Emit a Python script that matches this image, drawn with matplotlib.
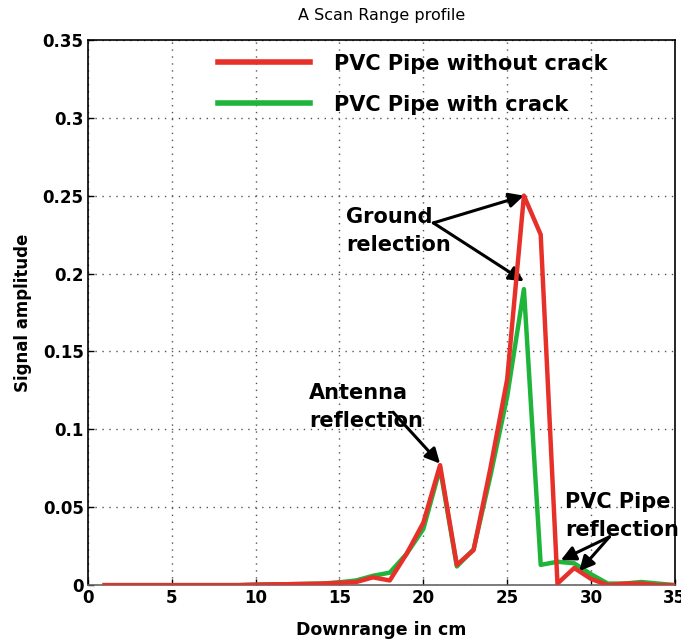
import numpy as np
import matplotlib
matplotlib.use("Agg")
import matplotlib.pyplot as plt
from matplotlib.ticker import FormatStrFormatter

plt.rcParams['font.family'] = ['DejaVu Sans']

# Downrange positions (cm) and A-scan amplitudes
downrange = list(range(1, 36))
no_crack = [0, 0, 0, 0, 0, 0, 0, 0, 0, 0.0003, 0.0005, 0.0006, 0.0008, 0.001,
            0.0015, 0.002, 0.005, 0.003, 0.02, 0.04, 0.077, 0.013, 0.0225, 0.075,
            0.132, 0.25, 0.225, 0.001, 0.011, 0.004, 0.0, 0.001, 0.001, 0.0, 0.0]
with_crack = [0, 0, 0, 0, 0, 0, 0, 0, 0, 0.0003, 0.0005, 0.0006, 0.0008, 0.001,
              0.0018, 0.003, 0.006, 0.008, 0.02, 0.036, 0.075, 0.012, 0.023, 0.07,
              0.121, 0.19, 0.013, 0.015, 0.014, 0.007, 0.001, 0.001, 0.002, 0.001, 0.0]
series_labels = ['PVC Pipe without crack', 'PVC Pipe with crack']

RED = '#e8302a'
GREEN = '#1fb53a'

fig = plt.figure(figsize=(6.81, 6.43), dpi=100)
ax = fig.add_axes([0.129, 0.090, 0.862, 0.848])

ax.plot(downrange, with_crack, color=GREEN, lw=3.2, label=series_labels[1], zorder=3)
ax.plot(downrange, no_crack, color=RED, lw=3.2, label=series_labels[0], zorder=4)

ax.set_xlim(0, 35)
ax.set_ylim(0, 0.35)
ax.set_xticks(np.arange(0, 36, 5))
ax.set_yticks(np.arange(0, 0.351, 0.05))
ax.yaxis.set_major_formatter(FormatStrFormatter('%g'))
ax.grid(True, color='#555555', linestyle=(0, (1, 4)), linewidth=1.0)
ax.tick_params(direction='in', labelsize=12, length=4, width=1, pad=3)
for lbl in ax.get_xticklabels() + ax.get_yticklabels():
    lbl.set_fontweight('bold')
for sp in ax.spines.values():
    sp.set_linewidth(1.2)
ax.spines['bottom'].set_color('#666666')

ax.set_title('A Scan Range profile', fontsize=11.5, pad=14)
ax.set_xlabel('Downrange in cm', fontsize=12.5, fontweight='bold', labelpad=10)
ax.set_ylabel('Signal amplitude', fontsize=12, fontweight='bold', labelpad=8)

# legend: red first, no frame
handles, labels = ax.get_legend_handles_labels()
leg = ax.legend(handles[::-1], labels[::-1], loc='upper left',
                bbox_to_anchor=(0.19, 1.009), frameon=False,
                prop={'size': 15, 'weight': 'bold'},
                handlelength=4.4, handletextpad=1.15, labelspacing=1.0)
for h in leg.get_lines():
    h.set_linewidth(4)

arrow = dict(arrowstyle='-|>', color='black', lw=2.2, mutation_scale=22,
             shrinkA=0, shrinkB=0)
note_font = dict(fontsize=15, fontweight='bold', va='top', ha='left',
                 linespacing=1.5)

# ground reflection peaks
ax.text(15.4, 0.243, 'Ground\nrelection', **note_font)
ax.annotate('', xy=(26.0, 0.25), xytext=(20.6, 0.2325), arrowprops=arrow)
ax.annotate('', xy=(26.0, 0.195), xytext=(20.6, 0.2325), arrowprops=arrow)

# antenna reflection
ax.text(13.2, 0.130, 'Antenna\nreflection', **note_font)
ax.annotate('', xy=(21.0, 0.078), xytext=(18.2, 0.111), arrowprops=arrow)

# pipe reflection
ax.text(28.45, 0.060, 'PVC Pipe\nreflection', **note_font)
ax.annotate('', xy=(28.2, 0.016), xytext=(31.1, 0.031), arrowprops=arrow)
ax.annotate('', xy=(29.3, 0.009), xytext=(31.1, 0.031), arrowprops=arrow)

fig.savefig('out.png', dpi=100)
